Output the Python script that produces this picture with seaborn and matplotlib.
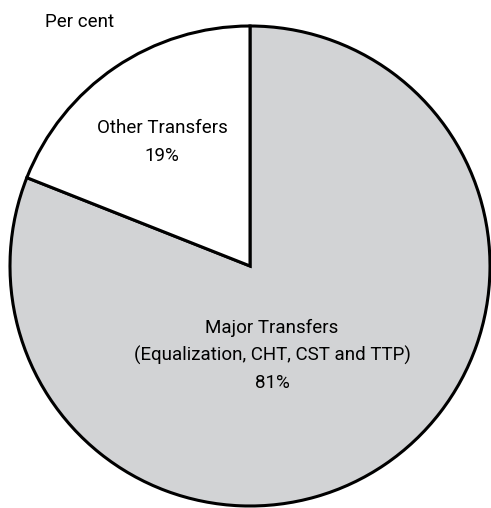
import seaborn as sns; sns.set_style('white')
import matplotlib.pyplot as plt

# shares of transfers, per cent
names = ['Major Transfers', 'Other Transfers']
notes = ['(Equalization, CHT, CST and TTP)', '']
shares = [81, 19]
colors = ['#d2d3d5', '#ffffff']

plt.rcParams['font.family'] = ['Roboto', 'DejaVu Sans']

W, H = 491, 508
cx, cy, R = 250, 266, 240

fig = plt.figure(figsize=(W / 100, H / 100), dpi=100)
ax = fig.add_axes([0, 0, 1, 1])

ax.pie(shares, colors=colors, startangle=90 + 360 * shares[1] / 100,
       counterclock=True, radius=1,
       wedgeprops=dict(edgecolor='black', linewidth=2.2))

ax.set_xlim(-cx / R, (W - cx) / R)
ax.set_ylim(-(H - cy) / R, cy / R)
ax.set_aspect('auto')
ax.axis('off')

def px(x, y):
    return (x - cx) / R, (cy - y) / R

def txt(x, y, s, ha='center'):
    ax.text(*px(x, y), s, ha=ha, va='baseline', fontsize=13.5, color='black')

# other transfers
txt(162, 133, names[1])
txt(162, 161, f'{shares[1]}%')
# major transfers
txt(272, 333, names[0])
txt(272, 361, notes[0])
txt(272, 388, f'{shares[0]}%')

txt(45, 27, 'Per cent', ha='left')

fig.savefig('out.png', dpi=100)
